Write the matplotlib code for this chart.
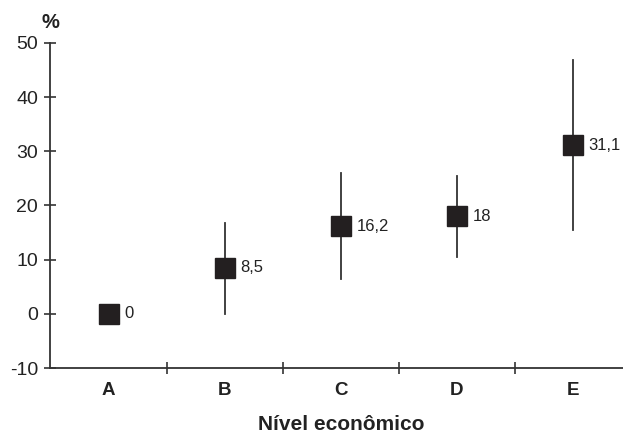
import matplotlib
matplotlib.use('Agg')
import matplotlib.pyplot as plt

plt.rcParams['font.family'] = ['Liberation Sans', 'DejaVu Sans']
plt.rcParams['axes.unicode_minus'] = False

# dados
categorias = ['A', 'B', 'C', 'D', 'E']
valores = [0, 8.5, 16.2, 18, 31.1]
rotulos = ['0', '8,5', '16,2', '18', '31,1']
ic_inferior = [0, 0, 6.5, 10.4, 15.4]
ic_superior = [0, 16.7, 26.0, 25.4, 46.9]

fig = plt.figure(figsize=(6.23, 4.36), dpi=100)
ax = fig.add_axes([50.5 / 623, 68 / 436, 572.5 / 623, 325 / 436])

cor_eixo = '#333333'
cor_marca = '#231f20'
x = list(range(len(categorias)))

# barras de erro (intervalo de confiança)
for xi, lo, hi in zip(x, ic_inferior, ic_superior):
    if hi > lo:
        ax.plot([xi, xi], [lo, hi], color=cor_eixo, lw=1.3, zorder=2)

ax.plot(x, valores, 's', color=cor_marca, markersize=15, linestyle='none', zorder=3)

for xi, v, r in zip(x, valores, rotulos):
    ax.annotate(r, (xi, v), xytext=(11.5, 0), textcoords='offset points',
                ha='left', va='center', fontsize=12, color='#222222')

ax.set_xlim(-0.5, 4.435)
ax.set_ylim(-10, 50)
ax.set_yticks(range(-10, 51, 10))
ax.set_xticks([0.5, 1.5, 2.5, 3.5])
ax.set_xticklabels([])
for xi, c in zip(x, categorias):
    ax.text(xi, -14.2, c, ha='center', va='center', fontsize=13.5,
            fontweight='bold', color='#222222')

ax.tick_params(axis='y', direction='inout', length=8, width=1.2, colors=cor_eixo,
               labelsize=14, pad=5, labelcolor='#222222')
ax.tick_params(axis='x', direction='inout', length=8, width=1.2, colors=cor_eixo)

for lado in ['top', 'right']:
    ax.spines[lado].set_visible(False)
for lado in ['left', 'bottom']:
    ax.spines[lado].set_color(cor_eixo)
    ax.spines[lado].set_linewidth(1.3)

fig.text(50.5 / 623, 1 - 22 / 436, '%', ha='center', va='center', fontsize=14.5,
         fontweight='bold', color='#222222')
fig.text(341 / 623, 1 - 424 / 436, 'Nível econômico', ha='center', va='center',
         fontsize=15, fontweight='bold', color='#222222')

fig.savefig('out.png', dpi=100)
